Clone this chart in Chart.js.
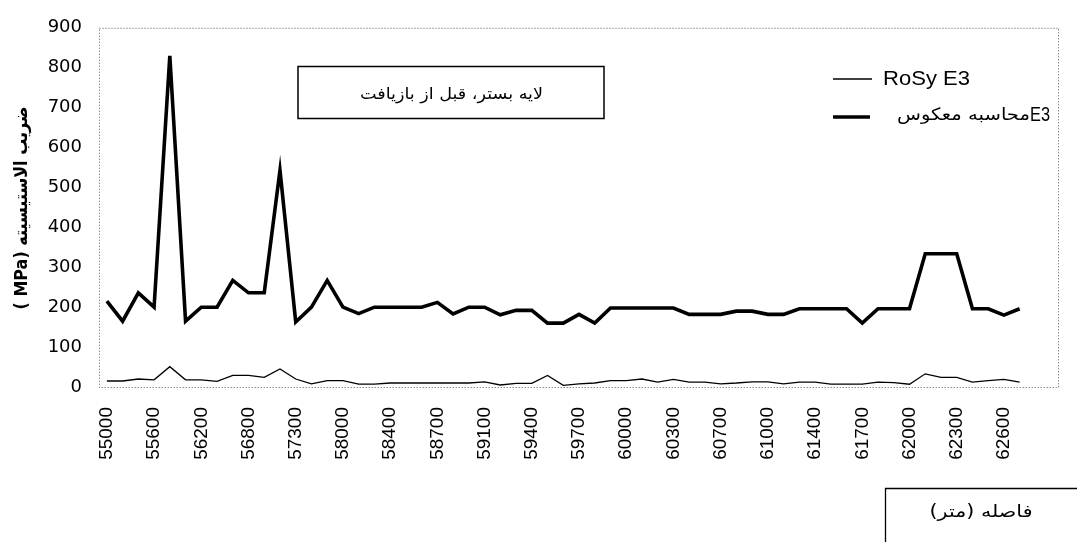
<!DOCTYPE html>
<html>
<head>
<meta charset="utf-8">
<script src="https://cdn.jsdelivr.net/npm/chart.js@4.4.1/dist/chart.umd.min.js"></script>
<style>
  html, body { margin: 0; padding: 0; background: #fff; }
  #wrap { width: 1077px; height: 542px; }
</style>
</head>
<body>
<div id="wrap"><canvas id="c" width="1077" height="542"></canvas></div>
<script>
// Distance tick labels (every third measurement station is labelled)
const tickLabels = ['55000','55600','56200','56800','57300','58000','58400','58700','59100','59400',
                    '59700','60000','60300','60700','61000','61400','61700','62000','62300','62600'];

// RoSy E3 (MPa)
const rosyE3 = [15,15,20,18,51,18,18,14,29,29,24,45,20,8,16,16,7,7,10,10,
                10,10,10,10,13,5,9,9,29,4,8,10,16,16,20,12,19,12,12,8,
                10,13,13,8,12,12,7,7,7,12,11,7,33,24,24,12,16,19,12];

// E3 back-calculated (MPa)
const backCalcE3 = [215,165,236,200,830,165,200,200,267,236,236,543,163,200,267,200,184,200,200,200,
                    200,212,183,200,200,181,192,192,160,160,182,160,198,198,198,198,198,182,182,182,
                    190,190,182,182,196,196,196,196,160,196,196,196,334,334,334,196,196,180,196];

const seriesNames = ['RoSy E3', 'E3محاسبه معکوس'];
const chartTitle = 'لایه بستر، قبل از بازیافت';
const yTitle = '( MPa) ضریب الاستیسیته';
const xTitle = 'فاصله (متر)';

function fitText(ctx, text, cx, cy, w, font, dir) {
  ctx.save();
  ctx.font = font;
  ctx.direction = dir || 'ltr';
  ctx.textAlign = 'center';
  ctx.textBaseline = 'middle';
  ctx.fillStyle = '#000';
  const m = ctx.measureText(text).width;
  const s = w / m;
  ctx.translate(cx, cy);
  ctx.scale(s, 1);
  ctx.fillText(text, 0, 0);
  ctx.restore();
}

const decor = {
  id: 'decor',
  afterDraw(chart) {
    const ctx = chart.ctx;
    const a = chart.chartArea;
    // dotted plot-area border
    ctx.save();
    ctx.strokeStyle = '#555';
    ctx.lineWidth = 1;
    ctx.setLineDash([1, 2]);
    ctx.strokeRect(a.left + 0.5, a.top + 0.5, a.right - a.left - 1, a.bottom - a.top);
    ctx.restore();

    // y-axis title (rotated)
    ctx.save();
    ctx.translate(22, 208);
    ctx.rotate(-Math.PI / 2);
    fitText(ctx, yTitle, 0, 0, 203, 'bold 18px "DejaVu Sans"', 'ltr');
    ctx.restore();

    // title box
    ctx.save();
    ctx.strokeStyle = '#000';
    ctx.lineWidth = 1.5;
    ctx.strokeRect(298, 66.5, 306, 52);
    ctx.restore();
    fitText(ctx, chartTitle, 451.5, 95, 183, '16px "DejaVu Sans"', 'rtl');

    // legend
    const ds = chart.data.datasets;
    ctx.save();
    ctx.strokeStyle = '#000';
    ctx.lineWidth = ds[0].borderWidth;
    ctx.beginPath(); ctx.moveTo(833, 79); ctx.lineTo(872, 79); ctx.stroke();
    ctx.lineWidth = ds[1].borderWidth;
    ctx.beginPath(); ctx.moveTo(833, 117); ctx.lineTo(870, 117); ctx.stroke();
    ctx.restore();
    fitText(ctx, ds[0].label, 883 + 43.5, 79, 87, '21px "Liberation Sans"', 'ltr');
    const lbl = ds[1].label;
    const arabic = lbl.replace('E3', '');
    fitText(ctx, arabic, (897 + 1030) / 2, 116, 133, '17px "DejaVu Sans"', 'rtl');
    fitText(ctx, 'E3', 1040, 115.5, 20, '20px "Liberation Sans"', 'ltr');

    // x-axis title box
    ctx.save();
    ctx.strokeStyle = '#000';
    ctx.lineWidth = 1.3;
    ctx.beginPath();
    ctx.moveTo(1077, 488.5); ctx.lineTo(885.5, 488.5); ctx.lineTo(885.5, 542);
    ctx.stroke();
    ctx.restore();
    fitText(ctx, xTitle, 981, 513, 103, '17px "DejaVu Sans"', 'rtl');
  }
};

const toXY = arr => arr.map((v, i) => ({ x: i, y: v }));

new Chart(document.getElementById('c'), {
  type: 'line',
  data: {
    datasets: [
      { label: seriesNames[0], data: toXY(rosyE3), borderColor: '#000', borderWidth: 1.3,
        pointRadius: 0, tension: 0, fill: false },
      { label: seriesNames[1], data: toXY(backCalcE3), borderColor: '#000', borderWidth: 3.6,
        pointRadius: 0, tension: 0, fill: false }
    ]
  },
  options: {
    responsive: false,
    animation: false,
    devicePixelRatio: 1,
    layout: { padding: { top: 19, right: 18, left: 0, bottom: 0 } },
    plugins: { legend: { display: false }, tooltip: { enabled: false }, title: { display: false } },
    scales: {
      x: {
        type: 'linear',
        min: -0.5,
        max: 60.5,
        afterBuildTicks: s => { s.ticks = tickLabels.map((_, k) => ({ value: k * 3 })); },
        afterFit: s => { s.height = 155; },
        grid: { display: false, drawTicks: false },
        border: { display: false },
        ticks: {
          autoSkip: false,
          minRotation: 90,
          maxRotation: 90,
          padding: 20,
          color: '#000',
          font: { family: 'Liberation Sans', size: 19 },
          callback: v => tickLabels[Math.round(v / 3)] ?? ''
        }
      },
      y: {
        min: 0,
        max: 900,
        afterFit: s => { s.width = 99; },
        grid: { display: false, drawTicks: false },
        border: { display: false },
        ticks: {
          stepSize: 100,
          padding: 17,
          color: '#000',
          font: { family: 'DejaVu Sans', size: 18 }
        }
      }
    }
  },
  plugins: [decor]
});
</script>
</body>
</html>
